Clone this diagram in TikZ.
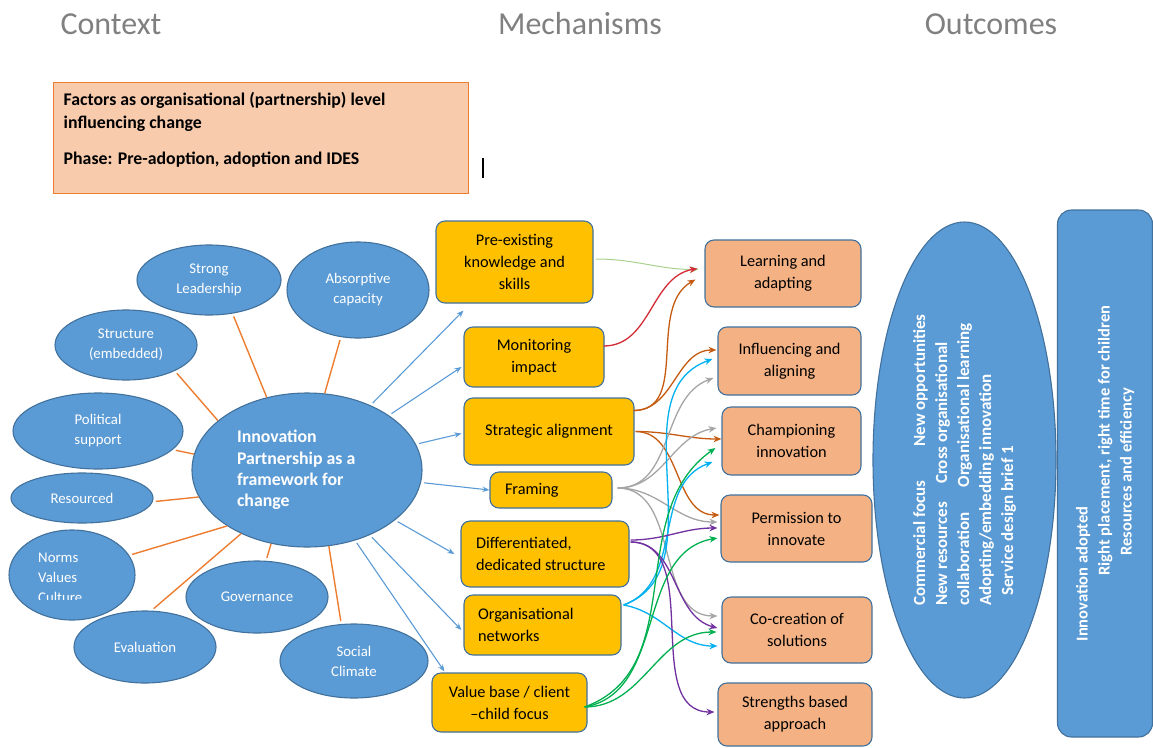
\documentclass[tikz,border=0pt]{standalone}
\usepackage{fontspec}
\setmainfont{Carlito}
\usetikzlibrary{shapes.geometric,arrows.meta}

\definecolor{ctxblue}{HTML}{5B9BD5}
\definecolor{ctxedge}{HTML}{41719C}
\definecolor{mechgold}{HTML}{FFC000}
\definecolor{outpeach}{HTML}{F4B183}
\definecolor{phasefill}{HTML}{F8CBAD}
\definecolor{orangeln}{HTML}{ED7D31}
\definecolor{headgray}{HTML}{808080}
\definecolor{cgreen}{HTML}{A9D18E}
\definecolor{cred}{HTML}{D42A35}
\definecolor{cbrown}{HTML}{C55A11}
\definecolor{cgray}{HTML}{A5A5A5}
\definecolor{ccyan}{HTML}{00B0F0}
\definecolor{cpurple}{HTML}{7030A0}
\definecolor{cgreenb}{HTML}{00B050}

\tikzstyle{headline} = [text=headgray,font=\fontsize{32}{36}\selectfont]
\tikzstyle{factor} = [ellipse,draw=ctxedge,fill=ctxblue,line width=1.1pt,text=white,align=center,inner sep=0pt,font=\fontsize{14.8}{20}\selectfont]
\tikzstyle{mech} = [rectangle,rounded corners=9pt,draw=ctxedge,fill=mechgold,line width=1.1pt,align=center,inner sep=0pt,font=\fontsize{16.3}{22}\selectfont]
\tikzstyle{outc} = [mech,fill=outpeach]
\tikzstyle{spoke} = [orangeln,line width=1.4pt,shorten >=3pt]
\tikzstyle{feed} = [->,>={Stealth[length=7pt,width=5.5pt]},ctxblue,line width=1.1pt,shorten <=3pt]
\tikzstyle{arrow} = [->,>={Stealth[length=8pt,width=6.5pt]},line width=1.3pt]

\begin{document}
\begin{tikzpicture}[x=1pt,y=1pt]
      \useasboundingbox (0,0) rectangle (1153,-747);

      \node[headline] (hctx) at (111,-24) {Context};
      \node[headline] (hmech) at (580,-24) {Mechanisms};
      \node[headline] (hout) at (991,-24) {Outcomes};

      \node[rectangle,draw=orangeln,fill=phasefill,line width=1pt,minimum width=415pt,minimum height=111pt] (phase) at (260.5,-137.5) {};
      \node[anchor=north west,align=left,inner sep=0pt,font=\bfseries\fontsize{17.8}{22.7}\selectfont] (phasetxt) at ([xshift=11pt,yshift=-11pt]phase.north west) {Factors as organisational (partnership) level\\influencing change\\[13pt]Phase: Pre-adoption, adoption and IDES};
      \node[fill=black,inner sep=0pt,minimum width=1.2pt,minimum height=20pt] (cursor) at (483,-168) {};

      % context
      \node[factor,minimum width=230pt,minimum height=154pt,text width=140pt,align=flush left,font=\bfseries\fontsize{17.8}{21.3}\selectfont] (hub) at (307,-470) {Innovation\\Partnership as a\\framework for\\change};
      \node[factor,minimum width=144pt,minimum height=70pt] (lead) at (209,-280) {Strong\\Leadership};
      \node[factor,minimum width=142pt,minimum height=96pt] (absorb) at (358,-290) {Absorptive\\capacity};
      \node[factor,minimum width=142pt,minimum height=70pt] (struct) at (126,-345) {Structure\\(embedded)};
      \node[factor,minimum width=170pt,minimum height=76pt] (polit) at (98,-431) {Political\\support};
      \node[factor,minimum width=142pt,minimum height=50pt] (resrc) at (82,-498) {Resourced};
      \node[factor,minimum width=126pt,minimum height=90pt] (norms) at (72,-575) {};
      \begin{scope}
        \clip (0,-540) rectangle (140,-599);
        \node[anchor=north west,align=left,text=white,inner sep=0pt,font=\fontsize{14.8}{20}\selectfont] (normstxt) at (38,-553) {Norms\\Values\\Culture};
      \end{scope}
      \node[factor,minimum width=142pt,minimum height=72pt] (evalu) at (145,-647) {Evaluation};
      \node[factor,minimum width=142pt,minimum height=72pt] (govern) at (257,-597) {Governance};
      \node[factor,minimum width=148pt,minimum height=74pt] (social) at (354,-661) {Social\\Climate};

      \draw[spoke] (hub.119) -- (lead.305);
      \draw[spoke] (hub.77) -- (absorb.250);
      \draw[spoke] (hub.151) -- (struct.332);
      \draw[spoke] (hub.172) -- (polit.346);
      \draw[spoke] (hub.194) -- (resrc.357);
      \draw[spoke] (hub.215) -- (norms.19);
      \draw[spoke] (hub.224) -- (evalu.80);
      \draw[spoke] (hub.244) -- (govern.76);
      \draw[spoke] (hub.286) -- (social.109);

      % mechanisms
      \node[mech,minimum width=157pt,minimum height=82pt] (pre) at (514.5,-262) {Pre-existing\\knowledge and\\skills};
      \node[mech,minimum width=140pt,minimum height=60pt] (monit) at (534,-357) {Monitoring\\impact};
      \node[mech,minimum width=170pt,minimum height=67pt] (strat) at (549,-431.5) {Strategic alignment};
      \node[mech,minimum height=36pt,text width=92pt,inner xsep=15pt,align=flush left] (fram) at (551,-490) {Framing};
      \node[mech,minimum height=66pt,text width=138pt,inner xsep=15pt,align=flush left] (diff) at (545,-554) {Differentiated,\\dedicated structure};
      \node[mech,minimum height=60pt,text width=129pt,inner xsep=14pt,align=flush left] (orgnet) at (542.5,-625) {Organisational\\networks};
      \node[mech,minimum width=155pt,minimum height=59pt] (valbase) at (509.5,-702.5) {Value base / client\\–child focus};

      \draw[feed] (hub) -- ([xshift=28pt,yshift=-7pt]pre.south west);
      \draw[feed] (hub) -- ([xshift=-2pt,yshift=-10pt]monit.west);
      \draw[feed] (hub) -- ([xshift=-2pt,yshift=-2pt]strat.west);
      \draw[feed] (hub) -- (fram.west);
      \draw[feed] (hub) -- ([xshift=-6pt]diff.west);
      \draw[feed] (hub) -- ([xshift=-2pt,yshift=-5pt]orgnet.west);
      \draw[feed] (hub) -- ([xshift=13pt,yshift=1pt]valbase.north west);

      % outcomes
      \node[outc,minimum width=156pt,minimum height=67pt] (learn) at (783,-273.5) {Learning and\\adapting};
      \node[outc,minimum width=143pt,minimum height=68pt] (influ) at (789.5,-361) {Influencing and\\aligning};
      \node[outc,minimum width=139pt,minimum height=68pt] (champ) at (791.5,-441) {Championing\\innovation};
      \node[outc,minimum width=151pt,minimum height=67pt] (permit) at (796.5,-528.5) {Permission to\\innovate};
      \node[outc,minimum width=150pt,minimum height=66pt] (cocreate) at (797,-630) {Co-creation of\\solutions};
      \node[outc,minimum width=154pt,minimum height=63pt] (strength) at (795,-714.5) {Strengths based\\approach};

      \node[factor,rotate=90,minimum width=476pt,minimum height=183pt,align=left,font=\bfseries\fontsize{17}{22}\selectfont] (gains) at (964.5,-460) {Commercial focus\hspace{34pt}New opportunities\\New resources\hspace{18pt}Cross organisational\\collaboration\hspace{25pt}Organisational learning\\Adopting/embedding innovation\\\hspace*{10pt}Service design brief 1};
      \node[rectangle,rounded corners=14pt,draw=ctxedge,fill=ctxblue,line width=1.1pt,rotate=90,minimum width=527pt,minimum height=95pt,text=white,align=left,inner sep=0pt,font=\bfseries\fontsize{16.5}{22}\selectfont] (result) at (1105,-473.5) {Innovation adopted\\\hspace*{66pt}Right placement, right time for children\\\hspace*{86pt}Resources and efficiency};

      % links
      \draw[arrow,cgreen,line width=1pt] ([xshift=2pt,yshift=3pt]pre.east) to[out=0,in=180] ([xshift=-6pt,yshift=4pt]learn.west);
      \draw[arrow,cred] ([xshift=-1pt,yshift=11pt]monit.east) to[out=0,in=190] ([xshift=-7pt,yshift=5pt]learn.west);
      \draw[arrow,cbrown] ([xshift=-1pt,yshift=21pt]strat.east) to[out=0,in=210] ([xshift=-9pt,yshift=-6pt]learn.west);
      \draw[arrow,cbrown] ([xshift=-1pt,yshift=21pt]strat.east) to[out=0,in=180] ([xshift=-1pt,yshift=11pt]influ.west);
      \draw[arrow,cbrown] ([xshift=1pt]strat.east) to[out=0,in=180] ([yshift=2pt]champ.west);
      \draw[arrow,cbrown] ([xshift=1pt]strat.east) to[out=0,in=180] ([xshift=-1pt,yshift=13.5pt]permit.west);

      \draw[arrow,cgray] ([xshift=5pt,yshift=2pt]fram.east) to[out=0,in=200] ([xshift=-4pt,yshift=-17pt]influ.west);
      \draw[arrow,cgray] ([xshift=5pt,yshift=2pt]fram.east) to[out=0,in=190] ([xshift=-5pt,yshift=13pt]champ.west);
      \draw[arrow,cgray] ([xshift=5pt,yshift=2pt]fram.east) to[out=0,in=180] ([xshift=-3pt,yshift=6.5pt]permit.west);
      \draw[arrow,cgray] ([xshift=5pt,yshift=2pt]fram.east) to[out=0,in=180] ([xshift=-4pt,yshift=14pt]cocreate.west);

      \draw[arrow,ccyan] ([xshift=2pt,yshift=20pt]orgnet.east) to[out=20,in=200] ([xshift=-5pt,yshift=2pt]influ.west);
      \draw[arrow,ccyan] ([xshift=2pt,yshift=20pt]orgnet.east) to[out=20,in=200] ([xshift=-9pt,yshift=-21pt]champ.west);
      \draw[arrow,ccyan] ([xshift=2pt,yshift=20pt]orgnet.east) to[out=-10,in=180] ([xshift=-4pt,yshift=-16pt]cocreate.west);

      \draw[arrow,cpurple] ([xshift=1pt,yshift=14pt]diff.east) to[out=0,in=180] ([xshift=-3pt,yshift=0.5pt]permit.west);
      \draw[arrow,cpurple] ([xshift=1pt,yshift=12pt]diff.east) to[out=0,in=165] ([xshift=-4pt,yshift=2pt]cocreate.west);
      \draw[arrow,cpurple] ([xshift=1pt,yshift=12pt]diff.east) to[out=0,in=180] ([xshift=-3pt,yshift=2.5pt]strength.west);

      \draw[arrow,cgreenb] ([xshift=-3pt,yshift=-4.5pt]valbase.east) to[out=20,in=215] ([xshift=-6pt,yshift=-7pt]champ.west);
      \draw[arrow,cgreenb] ([xshift=-3pt,yshift=-4.5pt]valbase.east) to[out=10,in=190] ([xshift=-3pt,yshift=-9.5pt]permit.west);
      \draw[arrow,cgreenb] ([xshift=-3pt,yshift=-4.5pt]valbase.east) to[out=0,in=180] ([xshift=-5pt,yshift=-2pt]cocreate.west);
\end{tikzpicture}
\end{document}
